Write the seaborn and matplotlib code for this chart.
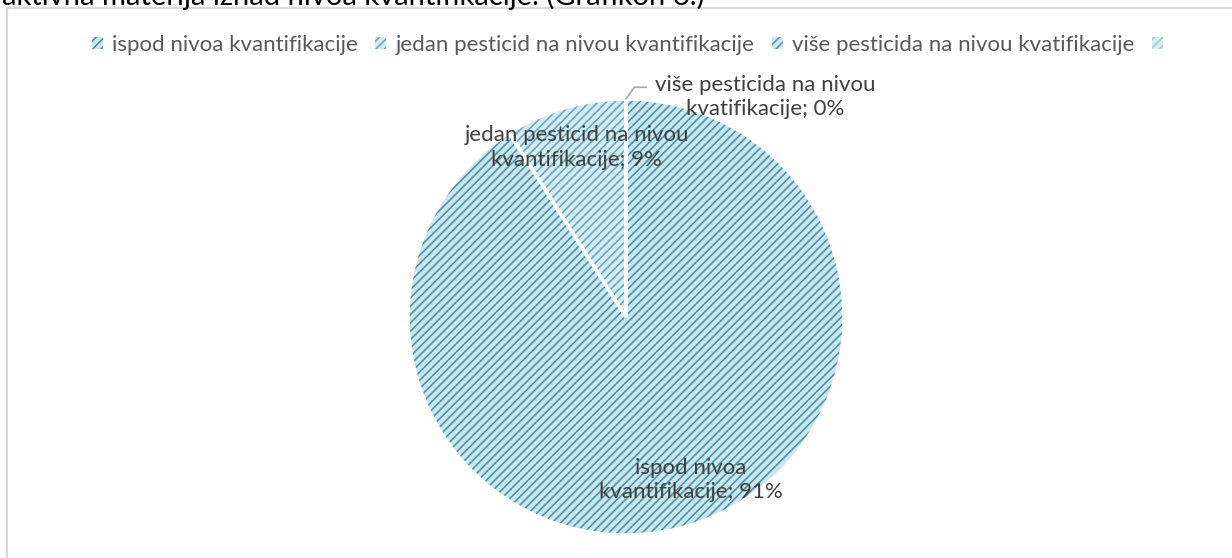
import numpy as np
import matplotlib.pyplot as plt
import seaborn as sns
from matplotlib.patches import Patch, Rectangle

##############################################

categories = [
    "ispod nivoa kvantifikacije",
    "jedan pesticid na nivou kvantifikacije",
    "više pesticida na nivou kvatifikacije",
    "",
]
shares = [91, 9, 0, 0]
slice_labels = [
    "ispod nivoa\nkvantifikacije; 91%",
    "jedan pesticid na nivou\nkvantifikacije; 9%",
    "više pesticida na nivou\nkvatifikacije; 0%",
    "",
]
title_text = "aktivna materija iznad nivoa kvantifikacije. (Grafikon 6.)"

face_colors = ["#cbe5ed", "#d5ebf1", "#cfe7ee", "#d8edf3"]
hatch_colors = ["#3f90a6", "#5ca6ba", "#4a98ad", "#9acbd8"]

##############################################

sns.set_theme(style="white")
plt.rcParams["font.family"] = ["Lato", "DejaVu Sans"]
plt.rcParams["hatch.linewidth"] = 1.1

W, H = 1232, 558
fig = plt.figure(figsize=(W / 100, H / 100), dpi=100)

# outer chart frame (only top/left edge visible)
fig.add_artist(Rectangle((7 / W, -0.1), 1.2, 1.1 - 8 / H, transform=fig.transFigure,
                         fill=False, edgecolor="#d9d9d9", linewidth=1.5))
# clipped text line from the document above
fig.text(2 / W, 1 - 5 / H, title_text, fontsize=21, color="black",
         ha="left", va="baseline")

# pie
cx, cy, R = 626, 317, 218
ax = fig.add_axes([(cx - R) / W, (H - cy - R) / H, 2 * R / W, 2 * R / H])
wedges, _ = ax.pie(shares, startangle=90, counterclock=False, radius=1,
                   wedgeprops=dict(linewidth=0))
for w, fc, hc in zip(wedges, face_colors, hatch_colors):
    w.set_facecolor(fc)
    w.set_edgecolor(hc)
    w.set_hatch("////")
    w.set_linewidth(0)
# white separators
ax.pie(shares, startangle=90, counterclock=False, radius=1,
       wedgeprops=dict(fill=False, edgecolor="white", linewidth=2.5))
ax.set_xlim(-1, 1)
ax.set_ylim(-1, 1)
ax.axis("off")

# data labels
label_shift = {0: (0.07, 0.03), 1: (0.0, 0.0)}
for i, (w, lab, val) in enumerate(zip(wedges, slice_labels, shares)):
    if not lab:
        continue
    ang = np.deg2rad((w.theta1 + w.theta2) / 2)
    if val > 0:
        dx, dy = label_shift.get(i, (0, 0))
        ax.text(0.81 * np.cos(ang) + dx, 0.81 * np.sin(ang) + dy, lab,
                ha="center", va="center", fontsize=16, color="#404040",
                linespacing=1.27)
    else:
        ax.annotate(lab, xy=(np.cos(ang), np.sin(ang)), xytext=(29, 2),
                    textcoords="offset pixels", ha="left", va="center",
                    multialignment="center", fontsize=16, color="#404040",
                    linespacing=1.27,
                    arrowprops=dict(arrowstyle="-", color="#a6a6a6", lw=1.2,
                                    relpos=(0, 0.72), shrinkA=4, shrinkB=0,
                                    connectionstyle="angle,angleA=0,angleB=55,rad=0"))

# legend
handles = [Patch(facecolor=fc, edgecolor=hc, hatch="////", linewidth=0)
           for fc, hc in zip(face_colors, hatch_colors)]
fig.legend(handles, categories, loc="center", bbox_to_anchor=(632 / W, 1 - 45 / H),
           ncol=4, frameon=False, fontsize=16, labelcolor="#595959",
           handlelength=0.5, handleheight=0.5, handletextpad=0.4,
           columnspacing=0.8)

fig.savefig("out.png", dpi=100)
